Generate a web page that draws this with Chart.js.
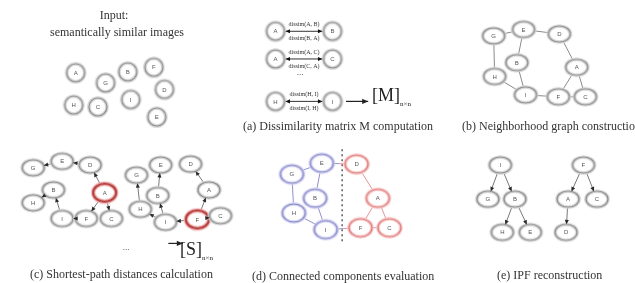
<!DOCTYPE html>
<html>
<head>
<meta charset="utf-8">
<script src="https://cdn.jsdelivr.net/npm/chart.js@4.4.1/dist/chart.umd.min.js"></script>
<style>
  body { margin: 0; background: #fff; overflow: hidden; }
  #wrap { position: relative; width: 635px; height: 283px; overflow: hidden; filter: blur(0.45px); }
  #wrap canvas { position: absolute; left: 0; top: 0; }
  .cap { position: absolute; font-family: "Liberation Serif", "DejaVu Serif", serif; font-size: 12px; color: #333; white-space: nowrap; }
  .mid { transform: translateX(-50%); }
  .mat { position: absolute; font-family: "Liberation Serif", serif; font-size: 18px; color: #222; white-space: nowrap; }
  .mat sub { font-size: 7px; }
</style>
</head>
<body>
<div id="wrap">
  <canvas id="chart" width="635" height="283"></canvas>
  <div class="cap mid" style="left:114px;top:8px">Input:</div>
  <div class="cap mid" style="left:117px;top:25px">semantically similar images</div>
  <div class="cap" style="left:243px;top:119px">(a) Dissimilarity matrix M computation</div>
  <div class="cap" style="left:462px;top:119px">(b) Neighborhood graph construction</div>
  <div class="cap" style="left:30px;top:267px">(c) Shortest-path distances calculation</div>
  <div class="cap" style="left:252px;top:269px">(d) Connected components evaluation</div>
  <div class="cap" style="left:497px;top:268px">(e) IPF reconstruction</div>
  <div class="cap mid" style="left:300px;top:67px;font-size:9px">...</div>
  <div class="cap mid" style="left:126px;top:242px;font-size:9px">...</div>
  <div class="mat" style="left:372px;top:85px">[M]<sub>n×n</sub></div>
  <div class="mat" style="left:180px;top:239px">[S]<sub>n×n</sub></div>
</div>
<script>
// input images
const inputNodes = [['A',67,67],['G',98,78],['B',121,66],['F',148,61],['D',159,85],['H',65,102],['C',90,104],['I',124,96],['E',151,115]];

// (a) dissimilarity pairs
const pairNodes = [['A',274,22],['B',333,22],['A',274,52],['C',333,52],['H',274,98],['I',333,98]];
const pairLinks = [[0,1],[2,3],[4,5]];
const pairLabels = [['dissim(A, B)','dissim(B, A)'],['dissim(A, C)','dissim(C, A)'],['dissim(H, I)','dissim(I, H)']];

// (b) neighborhood graph
const bNodes = [['G',500,27],['E',531,20],['D',568,25],['B',524,56],['A',586,61],['H',501,71],['I',533,91],['F',567,93],['C',595,93]];
const bEdges = [['G','E'],['E','D'],['G','H'],['E','B'],['H','I'],['B','I'],['I','F'],['D','A'],['A','F'],['A','C'],['F','C']];

// (c) shortest path trees
const cLeftNodes = [['G',23,170],['E',53,163],['D',82,167],['A',97,197],['B',44,194],['H',23,208],['I',53,225],['F',78,225],['C',104,225]];
const cLeftRoot = 'A';
const cLeftArrows = [['A','D'],['D','E'],['E','G'],['A','F'],['F','I'],['I','B'],['B','H'],['A','C']];
const cRightNodes = [['G',130,178],['E',155,167],['D',186,166],['B',152,200],['H',134,215],['I',160,229],['F',193,226],['A',205,194],['C',217,222]];
const cRightRoot = 'F';
const cRightArrows = [['F','I'],['I','H'],['H','G'],['I','B'],['B','E'],['F','A'],['A','D'],['F','C']];

// (d) connected components
const dBlueNodes = [['G',291,177],['E',322,165],['B',315,203],['H',293,219],['I',326,237]];
const dRedNodes = [['D',358,166],['A',380,203],['F',362,235],['C',392,235]];
const dBlueEdges = [['G','E'],['G','H'],['E','B'],['B','I'],['H','I']];
const dRedEdges = [['D','A'],['A','F'],['A','C'],['F','C']];
const dCutEdges = [['E','D'],['I','F']];
const dDivider = [[343,150],[343,252]];

// (e) IPF trees
const eNodes = [['I',507,167],['G',494,204],['B',522,204],['H',509,240],['E',538,240],['F',593,167],['A',577,204],['C',607,204],['D',575,240]];
const eArrows = [['I','G'],['I','B'],['B','H'],['B','E'],['F','A'],['F','C'],['A','D']];

// result arrows to matrices
const matrixArrows = [[[347,98],[370,98]],[[163,252],[178,252]]];

function ringImg(w, h, stroke, halo, lw) {
  const c = document.createElement('canvas');
  c.width = w + 8; c.height = h + 8;
  const x = c.getContext('2d');
  x.beginPath();
  x.ellipse(c.width / 2, c.height / 2, w / 2, h / 2, 0, 0, Math.PI * 2);
  x.fillStyle = '#fff'; x.fill();
  x.strokeStyle = halo; x.lineWidth = lw + 2.5; x.stroke();
  x.strokeStyle = stroke; x.lineWidth = lw; x.stroke();
  return c;
}
const circleGray = ringImg(18, 18, '#8c8c8c', '#d8d8d8', 1.2);
const ovalGray = ringImg(22, 16, '#8c8c8c', '#d8d8d8', 1.2);
const ovalRed = ringImg(23, 18, '#b23b3b', '#f2b4b4', 2);
const ovalBlue = ringImg(23, 18, '#8585c8', '#d6d6f2', 1.2);
const ovalPink = ringImg(23, 18, '#e07a7a', '#f6cccc', 1.2);

const datasets = [];
const pos = (list, name) => { const n = list.find(v => v[0] === name); return { x: n[1], y: n[2] }; };

function addNodes(list, img, root, rootImg) {
  datasets.push({
    type: 'scatter', order: 0,
    data: list.map(n => ({ x: n[1], y: n[2] })),
    pointStyle: list.map(n => (root && n[0] === root) ? rootImg : img),
    pointRadius: 10, pointHoverRadius: 10,
    nodeLabels: list.map(n => n[0])
  });
}
function addEdge(a, b, color, arrow, r) {
  datasets.push({
    type: 'line', order: 1, data: [a, b],
    borderColor: color, borderWidth: 1, pointRadius: 0, pointHoverRadius: 0,
    arrow: arrow, nodeR: r, arrowColor: '#2a2a2a'
  });
}

addNodes(inputNodes, circleGray);

addNodes(pairNodes, circleGray);
pairLinks.forEach((l, i) => {
  const a = pairNodes[l[0]], b = pairNodes[l[1]];
  datasets.push({
    type: 'line', order: 1, data: [{ x: a[1], y: a[2] }, { x: b[1], y: b[2] }],
    borderColor: '#333', borderWidth: 1, pointRadius: 0,
    arrow: 'both', nodeR: [10, 10], arrowColor: '#111', pairText: pairLabels[i]
  });
});

addNodes(bNodes, ovalGray);
bEdges.forEach(e => addEdge(pos(bNodes, e[0]), pos(bNodes, e[1]), '#8a8a8a', null, [11, 8]));

addNodes(cLeftNodes, ovalGray, cLeftRoot, ovalRed);
cLeftArrows.forEach(e => addEdge(pos(cLeftNodes, e[0]), pos(cLeftNodes, e[1]), '#777', 'end', [11, 8]));
addNodes(cRightNodes, ovalGray, cRightRoot, ovalRed);
cRightArrows.forEach(e => addEdge(pos(cRightNodes, e[0]), pos(cRightNodes, e[1]), '#777', 'end', [11, 8]));

addNodes(dBlueNodes, ovalBlue);
addNodes(dRedNodes, ovalPink);
dBlueEdges.forEach(e => addEdge(pos(dBlueNodes, e[0]), pos(dBlueNodes, e[1]), '#9090d2', null, [11, 8]));
dRedEdges.forEach(e => addEdge(pos(dRedNodes, e[0]), pos(dRedNodes, e[1]), '#e69494', null, [11, 8]));
dCutEdges.forEach(e => {
  const a = pos(dBlueNodes, e[0]), b = pos(dRedNodes, e[1]);
  const m = { x: (a.x + b.x) / 2, y: (a.y + b.y) / 2 };
  addEdge(a, m, '#9090d2', null, [11, 8]);
  addEdge(m, b, '#e69494', null, [11, 8]);
});
datasets.push({
  type: 'line', order: 2, data: dDivider.map(p => ({ x: p[0], y: p[1] })),
  borderColor: '#333', borderWidth: 1.2, borderDash: [2, 3], pointRadius: 0
});

addNodes(eNodes, ovalGray);
eArrows.forEach(e => addEdge(pos(eNodes, e[0]), pos(eNodes, e[1]), '#777', 'end', [11, 8]));

matrixArrows.forEach(m => {
  datasets.push({
    type: 'line', order: 1, data: m.map(p => ({ x: p[0], y: p[1] })),
    borderColor: '#222', borderWidth: 1.2, pointRadius: 0,
    arrow: 'end', nodeR: [0.01, 0.01], arrowColor: '#222', headSize: 6
  });
});

function drawHead(ctx, from, to, ds) {
  const dx = to.x - from.x, dy = to.y - from.y, len = Math.hypot(dx, dy);
  const ux = dx / len, uy = dy / len;
  const rx = ds.nodeR[0], ry = ds.nodeR[1];
  const t = 1 / Math.sqrt((ux / rx) ** 2 + (uy / ry) ** 2);
  const tx = to.x - ux * t, ty = to.y - uy * t;
  const s = ds.headSize || 4.5, w = s * 0.45;
  ctx.beginPath();
  ctx.moveTo(tx, ty);
  ctx.lineTo(tx - ux * s - uy * w, ty - uy * s + ux * w);
  ctx.lineTo(tx - ux * s + uy * w, ty - uy * s - ux * w);
  ctx.closePath();
  ctx.fillStyle = ds.arrowColor;
  ctx.fill();
}

const diagramPlugin = {
  id: 'diagram',
  afterDatasetsDraw(chart) {
    const ctx = chart.ctx;
    ctx.save();
    chart.data.datasets.forEach((ds, i) => {
      const pts = chart.getDatasetMeta(i).data;
      if (ds.arrow) {
        drawHead(ctx, pts[0], pts[1], ds);
        if (ds.arrow === 'both') drawHead(ctx, pts[1], pts[0], ds);
      }
      if (ds.pairText) {
        const mx = (pts[0].x + pts[1].x) / 2, my = pts[0].y;
        ctx.font = '6px "Liberation Serif", serif';
        ctx.fillStyle = '#333';
        ctx.textAlign = 'center';
        ctx.textBaseline = 'middle';
        ctx.fillText(ds.pairText[0], mx, my - 7);
        ctx.fillText(ds.pairText[1], mx, my + 7);
      }
      if (ds.nodeLabels) {
        ctx.font = '6px "Liberation Sans", sans-serif';
        ctx.fillStyle = '#555';
        ctx.textAlign = 'center';
        ctx.textBaseline = 'middle';
        ds.nodeLabels.forEach((t, j) => ctx.fillText(t, pts[j].x, pts[j].y + 0.5));
      }
    });
    ctx.restore();
  }
};

new Chart(document.getElementById('chart'), {
  type: 'scatter',
  data: { datasets },
  options: {
    responsive: false,
    animation: false,
    events: [],
    layout: { padding: 0 },
    plugins: { legend: { display: false }, tooltip: { enabled: false } },
    scales: {
      x: { type: 'linear', min: 0, max: 635, display: false },
      y: { type: 'linear', min: 0, max: 283, reverse: true, display: false }
    }
  },
  plugins: [diagramPlugin]
});
</script>
</body>
</html>
